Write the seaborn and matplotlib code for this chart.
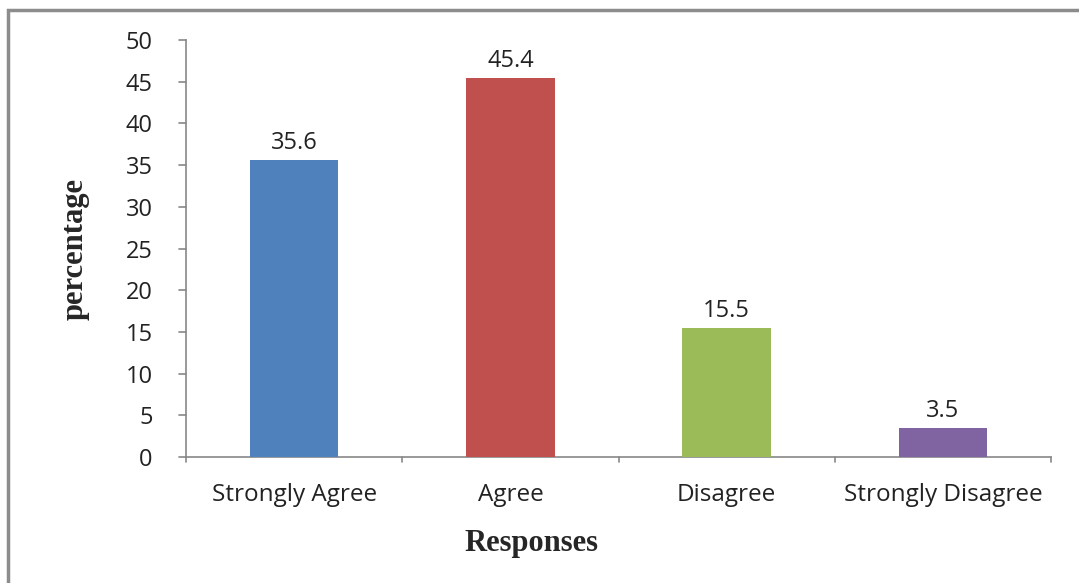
import matplotlib
matplotlib.use("Agg")
import matplotlib.pyplot as plt
import seaborn as sns
import pandas as pd
from matplotlib.patches import Rectangle

categories = ["Strongly Agree", "Agree", "Disagree", "Strongly Disagree"]
values = [35.6, 45.4, 15.5, 3.5]
bar_colors = ["#4F81BD", "#C0504D", "#9BBB59", "#8064A2"]
y_ticks = [0, 5, 10, 15, 20, 25, 30, 35, 40, 45, 50]

sns.set_theme(style="white")
plt.rcParams["font.family"] = ["Open Sans", "DejaVu Sans"]

df = pd.DataFrame({"Responses": categories, "percentage": values})

W, H = 1079, 583
fig = plt.figure(figsize=(W / 100, H / 100), dpi=100)
ax = fig.add_axes([186 / W, 1 - 457 / H, (1051 - 186) / W, (457 - 40) / H])

sns.barplot(data=df, x="Responses", y="percentage", hue="Responses",
            palette=bar_colors, width=0.41, legend=False, ax=ax,
            saturation=1, edgecolor="none")

ax.set_xlim(-0.5, len(categories) - 0.5)
ax.set_ylim(0, 50)
ax.set_yticks(y_ticks)
ax.set_yticklabels([str(t) for t in y_ticks], fontsize=17, color="#222222")
ax.set_xticks(range(len(categories)))
ax.set_xticklabels(categories, fontsize=17.5, color="#222222")
ax.tick_params(axis="x", length=0, pad=19)
ax.tick_params(axis="y", length=0, pad=24)

# category boundary ticks on the x axis, outward
for b in [-0.5, 0.5, 1.5, 2.5, 3.5]:
    ax.plot([b, b], [0, -0.012], transform=ax.get_xaxis_transform(),
            color="#888888", lw=1.2, clip_on=False)
# y ticks, outward
for t in y_ticks:
    ax.plot([-0.008, 0], [t, t], transform=ax.get_yaxis_transform(),
            color="#888888", lw=1.2, clip_on=False)

for s in ["top", "right"]:
    ax.spines[s].set_visible(False)
for s in ["left", "bottom"]:
    ax.spines[s].set_color("#888888")
    ax.spines[s].set_linewidth(1.2)
for p in ax.patches:
    p.set_zorder(3)

for i, v in enumerate(values):
    ax.text(i, v + 0.6, f"{v}", ha="center", va="bottom", fontsize=17,
            color="#222222")

ax.set_xlabel("Responses", family="Liberation Serif", fontweight="bold",
              fontsize=22)
ax.xaxis.set_label_coords(0.399, -0.172)
ax.set_ylabel("percentage", family="Liberation Serif", fontweight="bold",
              fontsize=22, labelpad=26)

# outer frame
fig.patches.append(Rectangle((8 / W, -0.1), 1.2, 1 - 10 / H + 0.1,
                             transform=fig.transFigure, fill=False,
                             edgecolor="#8c8c8c", lw=2.5, zorder=0))

fig.savefig("out.png", dpi=100)
